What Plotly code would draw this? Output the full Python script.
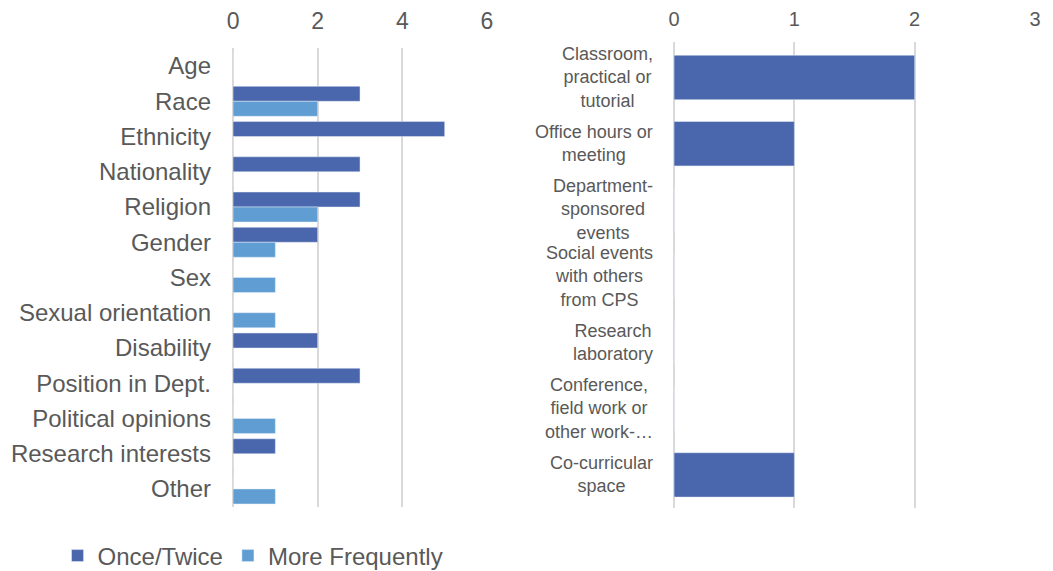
import plotly.graph_objects as go

# dados
categorias_esq = ["Age", "Race", "Ethnicity", "Nationality", "Religion", "Gender", "Sex",
                  "Sexual orientation", "Disability", "Position in Dept.", "Political opinions",
                  "Research interests", "Other"]
once_esq = [0, 3, 5, 3, 3, 2, 0, 0, 2, 3, 0, 1, 0]
more_esq = [0, 2, 0, 0, 2, 1, 1, 1, 0, 0, 1, 0, 1]

categorias_dir = ["Classroom,<br>practical or<br>tutorial", "Office hours or<br>meeting",
                  "Department-<br>sponsored<br>events", "Social events<br>with others<br>from CPS",
                  "Research<br>laboratory", "Conference,<br>field work or<br>other work-…",
                  "Co-curricular<br>space"]
once_dir = [2, 1, 0, 0, 0, 0, 1]

ticks_esq = [0, 2, 4, 6]
ticks_dir = [0, 1, 2, 3]

cor_once = "#4A66AC"
cor_more = "#5F9DD3"
cor_grade = "#D9D9D9"
cor_texto = "#595959"
fonte = "Arial, Liberation Sans, sans-serif"

fig = go.Figure()
fig.add_trace(go.Bar(y=categorias_esq, x=once_esq, orientation="h", name="Once/Twice",
                     marker_color=cor_once, xaxis="x", yaxis="y"))
fig.add_trace(go.Bar(y=categorias_esq, x=more_esq, orientation="h", name="More Frequently",
                     marker_color=cor_more, xaxis="x", yaxis="y"))
fig.add_trace(go.Bar(y=categorias_dir, x=once_dir, orientation="h", name="Once/Twice",
                     marker_color=cor_once, xaxis="x2", yaxis="y2", width=0.67,
                     showlegend=False))

eixo_x = dict(side="top", showgrid=True, gridcolor=cor_grade, gridwidth=2,
              zeroline=True, zerolinecolor=cor_grade, zerolinewidth=2,
              showline=False, ticks="", automargin=False)

fig.update_layout(
    width=1053, height=571,
    margin=dict(l=0, r=0, t=0, b=0),
    plot_bgcolor="white", paper_bgcolor="white",
    font=dict(family=fonte, color=cor_texto),
    barmode="group", bargap=0.15, bargroupgap=0,
    xaxis=dict(eixo_x, domain=[0.2137, 0.4549], range=[0, 6], tickvals=ticks_esq,
               tickfont=dict(size=23), ticklabelstandoff=14, anchor="y"),
    yaxis=dict(domain=[0.1268, 0.9292], autorange="reversed", showgrid=False,
               tickfont=dict(size=24), ticklabelstandoff=21, anchor="x", automargin=False),
    xaxis2=dict(eixo_x, domain=[0.6325, 0.9753], range=[0, 3], tickvals=ticks_dir,
                tickfont=dict(size=20), ticklabelstandoff=11, anchor="y2"),
    yaxis2=dict(domain=[0.1243, 0.9405], autorange="reversed", showgrid=False,
                showticklabels=False, anchor="x2", automargin=False),
    legend=dict(orientation="h", x=0.2327, xanchor="center", y=0.0403, yanchor="middle",
                font=dict(size=24), traceorder="normal"),
)

# rótulos centralizados do eixo direito
for cat in categorias_dir:
    fig.add_annotation(x=0.6147, xref="paper", y=cat, yref="y2", text=cat,
                       showarrow=False, xanchor="right", align="center",
                       font=dict(size=18, color=cor_texto, family=fonte))

fig.write_html("out.html")
